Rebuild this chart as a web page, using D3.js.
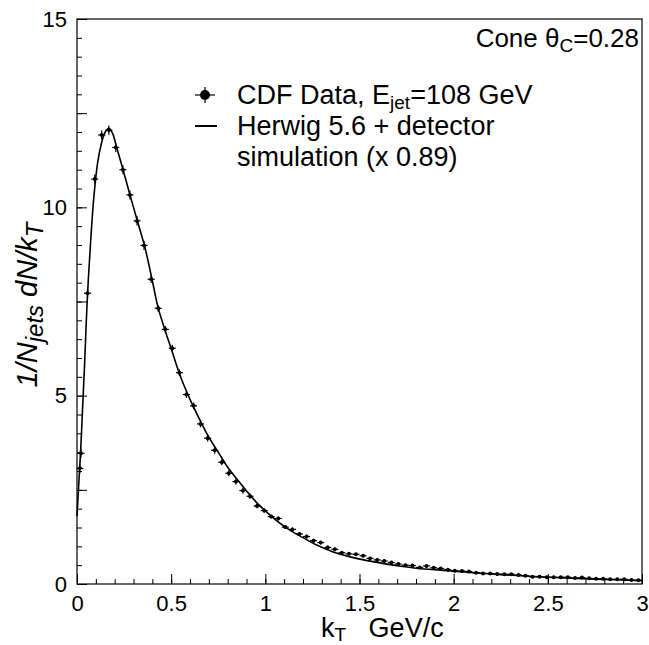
<!DOCTYPE html>
<html>
<head>
<meta charset="utf-8">
<script src="https://cdn.jsdelivr.net/npm/d3@7"></script>
<style>
  html, body { margin: 0; padding: 0; background: #fff; }
  svg { display: block; font-family: "Liberation Sans", Arial, Helvetica, sans-serif; }
</style>
</head>
<body>
<svg id="chart" width="649" height="645"></svg>
<script>
// ---- Data ----
const kT = [0.015, 0.021, 0.056, 0.094, 0.131, 0.169, 0.206, 0.244, 0.281, 0.319, 0.356,
  0.394, 0.431, 0.469, 0.506, 0.544, 0.581, 0.619, 0.656, 0.694, 0.731,
  0.769, 0.806, 0.844, 0.881, 0.919, 0.956, 0.994, 1.031, 1.069, 1.106,
  1.144, 1.181, 1.219, 1.256, 1.294, 1.331, 1.369, 1.406, 1.444, 1.481,
  1.519, 1.556, 1.594, 1.631, 1.669, 1.706, 1.744, 1.781, 1.819, 1.856,
  1.894, 1.931, 1.969, 2.006, 2.044, 2.081, 2.119, 2.156, 2.194, 2.231,
  2.269, 2.306, 2.344, 2.381, 2.419, 2.456, 2.494, 2.531, 2.569, 2.606,
  2.644, 2.681, 2.719, 2.756, 2.794, 2.831, 2.869, 2.906, 2.944, 2.981];
const cdfData = [3.07, 3.47, 7.72, 10.75, 11.92, 12.05, 11.59, 11.0, 10.33, 9.64, 8.99,
  8.09, 7.32, 6.76, 6.26, 5.61, 5.03, 4.73, 4.25, 3.87, 3.55,
  3.23, 2.94, 2.72, 2.48, 2.33, 2.07, 1.95, 1.79, 1.74, 1.51,
  1.45, 1.33, 1.26, 1.15, 1.10, 0.97, 0.92, 0.83, 0.80, 0.79,
  0.75, 0.68, 0.64, 0.61, 0.57, 0.53, 0.50, 0.49, 0.44, 0.48,
  0.43, 0.41, 0.38, 0.35, 0.345, 0.33, 0.30, 0.28, 0.28, 0.265,
  0.26, 0.26, 0.24, 0.22, 0.19, 0.19, 0.18, 0.18, 0.18, 0.18,
  0.16, 0.17, 0.15, 0.14, 0.14, 0.125, 0.125, 0.125, 0.106, 0.097];
const cdfErr = [0.12, 0.12, 0.12, 0.12, 0.12, 0.12, 0.12, 0.12, 0.12, 0.12, 0.12,
  0.10, 0.09, 0.09, 0.09, 0.09, 0.09, 0.09, 0.09, 0.09, 0.09,
  0.08, 0.08, 0.08, 0.08, 0.07, 0.06, 0.06, 0.05, 0.05, 0.05,
  0.05, 0.05, 0.05, 0.05, 0.05, 0.05, 0.05, 0.04, 0.04, 0.04,
  0.04, 0.04, 0.04, 0.04, 0.04, 0.04, 0.04, 0.04, 0.04, 0.04,
  0.03, 0.03, 0.03, 0.03, 0.03, 0.03, 0.03, 0.03, 0.03, 0.03,
  0.03, 0.03, 0.03, 0.03, 0.03, 0.03, 0.03, 0.03, 0.03, 0.03,
  0.03, 0.03, 0.03, 0.03, 0.03, 0.03, 0.03, 0.03, 0.03, 0.03];
const binHalfWidth = 0.01875;

const herwigX = [0, 0.01, 0.02, 0.03, 0.04, 0.055, 0.075, 0.09, 0.11, 0.13, 0.15, 0.17,
  0.19, 0.21, 0.25, 0.28, 0.32, 0.36, 0.40, 0.43, 0.47, 0.50, 0.55, 0.60, 0.65,
  0.70, 0.75, 0.80, 0.85, 0.90, 0.95, 1.00, 1.05, 1.10, 1.15, 1.20, 1.27, 1.36,
  1.45, 1.54, 1.63, 1.72, 1.80, 1.90, 2.00, 2.25, 2.50, 2.75, 3.00];
const herwigY = [1.8, 2.7, 3.6, 4.7, 5.8, 7.6, 9.3, 10.3, 11.2, 11.7, 12.0, 12.1,
  11.95, 11.6, 10.9, 10.35, 9.65, 8.95, 8.05, 7.35, 6.7, 6.25, 5.5, 4.9, 4.38,
  3.9, 3.5, 3.1, 2.78, 2.47, 2.18, 1.94, 1.72, 1.53, 1.37, 1.23, 1.04, 0.85,
  0.72, 0.62, 0.54, 0.47, 0.42, 0.38, 0.34, 0.25, 0.18, 0.13, 0.09];

const xMajorTicks = [0, 0.5, 1, 1.5, 2, 2.5, 3];
const yLabelTicks = [0, 5, 10, 15];
const yMidTicks = [2.5, 7.5, 12.5];

// ---- Layout ----
const svg = d3.select("#chart");
const L = 77, R = 642, T = 19, B = 584;
const x = d3.scaleLinear().domain([0, 3]).range([L, R]);
const y = d3.scaleLinear().domain([0, 15]).range([B, T]);
const FS = 22;   // tick labels
const LFS = 27;  // legend / titles
const SFS = 19;  // subscripts

// minor x ticks
const xMinor = d3.range(0, 3.0001, 0.1).map(v => +v.toFixed(2));
svg.append("g").attr("transform", `translate(0,${B})`)
  .call(d3.axisBottom(x).tickValues(xMinor).tickSizeInner(-5).tickSizeOuter(0).tickFormat(""))
  .call(g => g.select(".domain").remove());
svg.append("g").attr("transform", `translate(0,${B})`)
  .call(d3.axisBottom(x).tickValues(xMajorTicks).tickSizeInner(-10).tickSizeOuter(0)
    .tickPadding(11).tickFormat(d => String(d)))
  .call(g => g.select(".domain").remove())
  .call(g => g.selectAll("text").attr("font-size", FS).attr("font-family", "Liberation Sans, Arial, sans-serif").attr("fill", "#000"));

// y ticks
const yMinor = d3.range(0, 15.0001, 0.5).map(v => +v.toFixed(2));
svg.append("g").attr("transform", `translate(${L},0)`)
  .call(d3.axisLeft(y).tickValues(yMinor).tickSizeInner(-5).tickSizeOuter(0).tickFormat(""))
  .call(g => g.select(".domain").remove());
svg.append("g").attr("transform", `translate(${L},0)`)
  .call(d3.axisLeft(y).tickValues(yMidTicks.concat(yLabelTicks)).tickSizeInner(-10).tickSizeOuter(0).tickFormat(""))
  .call(g => g.select(".domain").remove());
svg.append("g").attr("transform", `translate(${L},0)`)
  .call(d3.axisLeft(y).tickValues(yLabelTicks).tickSizeInner(0).tickSizeOuter(0)
    .tickPadding(10).tickFormat(d => String(d)))
  .call(g => g.select(".domain").remove())
  .call(g => g.selectAll("text").attr("font-size", FS).attr("font-family", "Liberation Sans, Arial, sans-serif").attr("fill", "#000"));

svg.selectAll(".tick line").attr("stroke", "#000").attr("stroke-width", 1);

// frame
svg.append("rect").attr("x", L).attr("y", T).attr("width", R - L).attr("height", B - T)
  .attr("fill", "none").attr("stroke", "#000").attr("stroke-width", 1.2);

// Herwig curve
const pts = herwigX.map((v, i) => [v, herwigY[i]]);
svg.append("path").datum(pts)
  .attr("fill", "none").attr("stroke", "#000").attr("stroke-width", 1.6)
  .attr("d", d3.line().x(d => x(d[0])).y(d => y(d[1])).curve(d3.curveCatmullRom.alpha(0.5)));

// CDF data points
const data = kT.map((v, i) => ({ x: v, y: cdfData[i], e: cdfErr[i] }));
const gp = svg.append("g");
gp.selectAll("line.v").data(data).join("line").attr("class", "v")
  .attr("x1", d => x(d.x)).attr("x2", d => x(d.x))
  .attr("y1", d => y(d.y - d.e)).attr("y2", d => y(d.y + d.e))
  .attr("stroke", "#000").attr("stroke-width", 1.2);
gp.selectAll("line.h").data(data).join("line").attr("class", "h")
  .attr("x1", d => x(d.x - binHalfWidth)).attr("x2", d => x(d.x + binHalfWidth))
  .attr("y1", d => y(d.y)).attr("y2", d => y(d.y))
  .attr("stroke", "#000").attr("stroke-width", 1.2);
gp.selectAll("circle").data(data).join("circle")
  .attr("cx", d => x(d.x)).attr("cy", d => y(d.y)).attr("r", 2).attr("fill", "#000");

// Cone label
const cone = svg.append("text").attr("x", 639).attr("y", 47).attr("text-anchor", "end")
  .attr("font-size", 26).attr("fill", "#000");
cone.append("tspan").text("Cone \u03B8");
cone.append("tspan").attr("font-size", SFS).attr("dy", 5).text("C");
cone.append("tspan").attr("dy", -5).text("=0.28");

// legend
const lg = svg.append("g");
lg.append("line").attr("x1", 195).attr("x2", 215).attr("y1", 95).attr("y2", 95).attr("stroke", "#000").attr("stroke-width", 1.2);
lg.append("line").attr("x1", 205).attr("x2", 205).attr("y1", 87).attr("y2", 103).attr("stroke", "#000").attr("stroke-width", 1.2);
lg.append("circle").attr("cx", 205).attr("cy", 95).attr("r", 5).attr("fill", "#000");
const t1 = lg.append("text").attr("x", 237).attr("y", 104).attr("font-size", LFS).attr("fill", "#000");
t1.append("tspan").text("CDF Data, E");
t1.append("tspan").attr("font-size", SFS).attr("dy", 5).text("jet");
t1.append("tspan").attr("dy", -5).text("=108 GeV");
lg.append("line").attr("x1", 195).attr("x2", 217).attr("y1", 126).attr("y2", 126).attr("stroke", "#000").attr("stroke-width", 2);
lg.append("text").attr("x", 237).attr("y", 135).attr("font-size", LFS).attr("fill", "#000").text("Herwig 5.6 + detector");
lg.append("text").attr("x", 237).attr("y", 166).attr("font-size", LFS).attr("fill", "#000").text("simulation (x 0.89)");

// x title
const xt = svg.append("text").attr("x", 321).attr("y", 637).attr("font-size", LFS).attr("fill", "#000");
xt.append("tspan").text("k");
xt.append("tspan").attr("font-size", SFS).attr("dy", 4).text("T");
xt.append("tspan").attr("dy", -4).text("\u00A0\u00A0 GeV/c");

// y title
const yt = svg.append("text").attr("transform", "translate(37,305) rotate(-90)")
  .attr("text-anchor", "middle").attr("font-size", 29).attr("font-style", "italic").attr("fill", "#000");
yt.append("tspan").text("1/N");
yt.append("tspan").attr("font-size", 24).attr("dy", 6).text("jets");
yt.append("tspan").attr("dy", -6).text(" dN/k");
yt.append("tspan").attr("font-size", 24).attr("dy", 6).text("T");
</script>
</body>
</html>
